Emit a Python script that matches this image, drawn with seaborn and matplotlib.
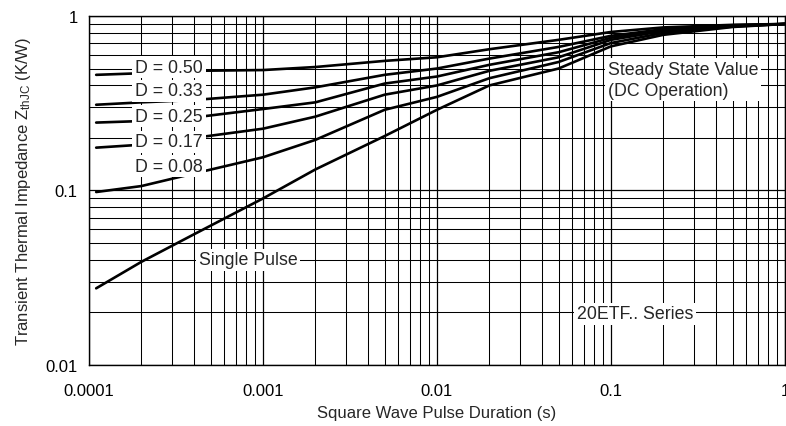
import numpy as np
import pandas as pd
import matplotlib
matplotlib.use('Agg')
import matplotlib.pyplot as plt
import seaborn as sns

# pulse duration (s) and Zth values
t_pulse = [0.00011, 0.0002, 0.0004, 0.001, 0.002, 0.005, 0.01, 0.02, 0.05, 0.1, 0.2, 0.5, 1.0]
z_d050 = [0.46, 0.47, 0.485, 0.49, 0.51, 0.553, 0.58, 0.645, 0.73, 0.81, 0.86, 0.89, 0.90]
z_d033 = [0.31, 0.32, 0.33, 0.354, 0.39, 0.46, 0.50, 0.57, 0.665, 0.77, 0.84, 0.885, 0.90]
z_d025 = [0.245, 0.25, 0.262, 0.293, 0.32, 0.41, 0.45, 0.525, 0.62, 0.75, 0.83, 0.88, 0.90]
z_d017 = [0.176, 0.183, 0.20, 0.226, 0.265, 0.354, 0.40, 0.485, 0.58, 0.73, 0.82, 0.875, 0.90]
z_d008 = [0.098, 0.106, 0.125, 0.155, 0.195, 0.29, 0.344, 0.44, 0.545, 0.70, 0.80, 0.87, 0.90]
z_single = [0.0275, 0.039, 0.056, 0.090, 0.132, 0.205, 0.29, 0.40, 0.50, 0.67, 0.78, 0.865, 0.90]

series_names = ['D = 0.50', 'D = 0.33', 'D = 0.25', 'D = 0.17', 'D = 0.08', 'Single Pulse']
series_vals = [z_d050, z_d033, z_d025, z_d017, z_d008, z_single]

x_ticks = [0.0001, 0.001, 0.01, 0.1, 1]
x_ticklabels = ['0.0001', '0.001', '0.01', '0.1', '1']
y_ticks = [0.01, 0.1, 1]
y_ticklabels = ['0.01', '0.1', '1']

rows = []
for name, vals in zip(series_names, series_vals):
    for t, z in zip(t_pulse, vals):
        rows.append({'t': t, 'z': z, 'curve': name})
df = pd.DataFrame(rows)

sns.set_style('white')
plt.rcParams['font.family'] = ['Liberation Sans', 'DejaVu Sans']
plt.rcParams['mathtext.fontset'] = 'custom'
plt.rcParams['mathtext.rm'] = 'Liberation Sans'
plt.rcParams['mathtext.it'] = 'Liberation Sans'

fig = plt.figure(figsize=(7.86, 4.27), dpi=100)
ax = fig.add_axes([0.1132, 0.1429, 0.8855, 0.8173])

sns.lineplot(data=df, x='t', y='z', units='curve', estimator=None,
             color='black', linewidth=1.9, ax=ax, zorder=3)

ax.set_xscale('log')
ax.set_yscale('log')
ax.set_xlim(0.0001, 1)
ax.set_ylim(0.01, 1)
ax.set_xticks(x_ticks)
ax.set_xticklabels(x_ticklabels)
ax.set_yticks(y_ticks)
ax.set_yticklabels(y_ticklabels)
ax.tick_params(which='both', length=0, labelsize=12, colors='black')
ax.tick_params(axis='x', pad=13)
ax.tick_params(axis='y', pad=8)

ax.grid(True, which='major', color='black', linewidth=0.9)
ax.grid(True, which='minor', color='black', linewidth=0.75)
for s in ax.spines.values():
    s.set_color('black')
    s.set_linewidth(1.0)

ax.set_xlabel('Square Wave Pulse Duration (s)', fontsize=12, labelpad=5)
ax.set_ylabel(r'Transient Thermal Impedance Z$_{\rm thJC}$ (K/W)', fontsize=12, labelpad=9)

box = dict(facecolor='white', edgecolor='none', pad=2.0)
lab_y = [0.51, 0.372, 0.267, 0.19, 0.138]
for name, yy in zip(series_names[:5], lab_y):
    ax.text(1.84e-4, yy, name, fontsize=12.8, ha='left', va='center', bbox=box, zorder=5)
ax.text(4.28e-4, 0.040, 'Single Pulse', fontsize=12.8, ha='left', va='center', bbox=box, zorder=5)
ax.text(0.096, 0.43, 'Steady State Value\n(DC Operation)', fontsize=12.8, ha='left', va='center',
        linespacing=1.25, bbox=box, zorder=5)
ax.text(0.0638, 0.0196, '20ETF.. Series', fontsize=12.8, ha='left', va='center', bbox=box, zorder=5)

fig.savefig('out.png', dpi=100)
